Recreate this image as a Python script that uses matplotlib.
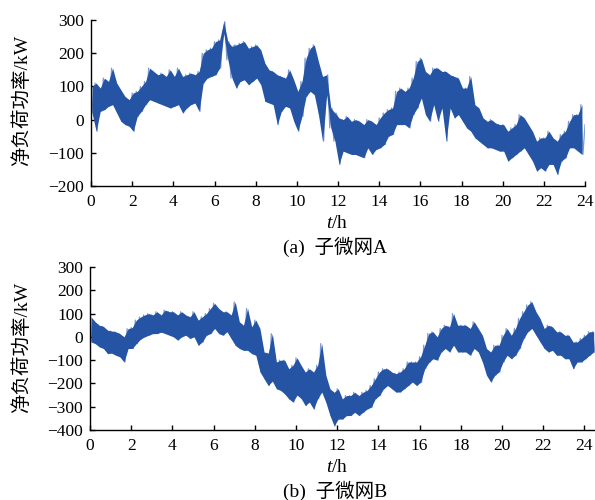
import numpy as np
import matplotlib
matplotlib.use('Agg')
import matplotlib.pyplot as plt

plt.rcParams['font.family'] = ['Liberation Serif', 'Noto Sans CJK SC']
plt.rcParams['mathtext.fontset'] = 'custom'
plt.rcParams['mathtext.rm'] = 'Liberation Serif'
plt.rcParams['mathtext.it'] = 'Liberation Serif:italic'

# 子微网A 净负荷 (kW), 每0.1 h 一个点, 0~24 h
load_a = [
    100, 20, 110, -35, 95, 25, 125, 30, 115, 40,
    155, 45, 110, 20, 90, -5, 70, -15, 60, -20,
    80, -35, 85, 10, 100, 25, 115, 45, 155, 60,
    145, 55, 135, 50, 140, 45, 130, 40, 150, 35,
    130, 40, 155, 45, 130, 20, 135, 35, 140, 45,
    135, 50, 145, 25, 200, 110, 210, 125, 215, 130,
    235, 135, 240, 155, 260, 295, 180, 235, 125, 220,
    225, 95, 230, 115, 235, 120, 215, 105, 220, 115,
    225, 125, 210, 105, 170, 55, 150, 50, 145, 45,
    135, -15, 130, 25, 125, 40, 150, 35, 120, -5,
    85, -35, 115, 10, 185, 70, 215, 85, 225, 75,
    175, 15, 130, -65, 75, 135, -25, 35, -65, 20,
    5, -135, 0, -95, 10, -100, -5, -105, 0, -105,
    -5, -110, -15, -115, 0, -85, -5, -105, -15, -90,
    5, -85, 20, -75, 30, -50, 35, -45, 85, -15,
    95, -15, 85, -15, 95, -25, 125, 15, 175, 35,
    185, 65, 145, 15, 135, -5, 155, 45, 155, -5,
    145, 35, 145, -65, 135, 35, 130, 5, 125, 15,
    95, -5, 95, -25, 130, -35, 45, -55, 35, -65,
    5, -75, -5, -85, 0, -85, -10, -90, -15, -95,
    -15, -95, -35, -125, -25, -115, -15, -105, 15, -95,
    5, -85, -15, -105, -35, -125, -65, -155, -55, -145,
    -55, -155, -35, -135, -55, -135, -65, -165, -45, -125,
    -35, -115, -5, -85, 15, -85, 15, -95, 45, -105,
    -15,
]

# 子微网B 净负荷 (kW), 每0.1 h 一个点, 0~24.5 h
load_b = [
    86, -22, 65, -29, 50, -43, 45, -50, 29, -72,
    25, -70, 22, -79, 14, -86, 0, -108, 35, -50,
    40, -50, 72, -29, 85, -10, 94, 0, 100, 7,
    94, 14, 108, 14, 94, 20, 115, 14, 108, 7,
    108, 0, 94, -14, 108, 0, 94, 7, 86, -7,
    108, 0, 72, -36, 86, -22, 100, 7, 122, 14,
    144, 36, 122, 14, 108, 7, 108, 22, 94, -7,
    150, -36, 65, -50, 50, -58, 122, -58, 43, -72,
    72, -79, 36, -150, -65, -180, -70, -209, 14, -190,
    -108, -223, -100, -230, -100, -245, -137, -266, -122, -280,
    -90, -250, -122, -265, -151, -295, -137, -280, -151, -310,
    -122, -266, -29, -237, -165, -281, -223, -338, -238, -382,
    -223, -353, -266, -353, -252, -338, -252, -338, -238, -324,
    -252, -338, -238, -324, -230, -310, -209, -302, -180, -266,
    -151, -252, -137, -223, -137, -209, -151, -223, -158, -237,
    -151, -237, -137, -223, -108, -209, -108, -194, -108, -209,
    -85, -195, -36, -137, 15, -110, 22, -94, 0, -100,
    36, -65, 50, -50, 43, -65, 100, -36, 50, -65,
    50, -65, 50, -65, 36, -79, 65, -50, 36, -65,
    7, -108, -50, -165, -65, -194, -36, -165, -36, -151,
    7, -108, 36, -79, 7, -94, 36, -79, 79, -50,
    108, -7, 137, 22, 151, 36, 108, 7, 79, -22,
    36, -50, 50, -65, 43, -58, 22, -79, 22, -79,
    7, -94, 7, -94, -22, -137, -22, -108, -7, -108,
    7, -94, 22, -79, 22, -65,
]

x_ticks = list(range(0, 25, 2))
yticks_a = [-200, -100, 0, 100, 200, 300]
yticks_b = [-400, -300, -200, -100, 0, 100, 200, 300]

color = '#2554a4'
light = '#7d9ad2'
W, H = 595, 500


def draw(ax, load):
    y = np.asarray(load, dtype=float)
    t = np.arange(len(y)) * 0.1
    # 高频波动形成的带状区域: 取相邻两点的上下包络填充
    n = len(y) // 2 * 2
    pairs = y[:n].reshape(-1, 2)
    tc = t[:n].reshape(-1, 2).mean(axis=1)
    ax.plot(t, y, color=light, lw=0.9, zorder=1)
    ax.fill_between(tc, pairs.min(axis=1), pairs.max(axis=1),
                    color=color, lw=0, zorder=2)


def style(ax, yticks, ylim, xlim):
    for s in ['top', 'right']:
        ax.spines[s].set_visible(False)
    for s in ['left', 'bottom']:
        ax.spines[s].set_linewidth(1.0)
    ax.set_xlim(*xlim)
    ax.set_ylim(*ylim)
    ax.set_xticks(x_ticks)
    ax.set_yticks(yticks)
    ax.tick_params(direction='in', length=3.5, width=1.0, labelsize=12.5)
    ax.tick_params(axis='x', pad=6)
    ax.tick_params(axis='y', pad=5)


fig = plt.figure(figsize=(W / 100, H / 100), dpi=100)
ax1 = fig.add_axes([91 / W, 1 - 186 / H, 494 / W, 166 / H])
ax2 = fig.add_axes([90 / W, 1 - 430 / H, 515 / W, 163 / H])

draw(ax1, load_a)
style(ax1, yticks_a, (-200, 300), (0, 24))
draw(ax2, load_b)
style(ax2, yticks_b, (-400, 300), (0, 25))

for yc, yl, cap in [(224, 100, '(a)  子微网A'), (468, 347, '(b)  子微网B')]:
    fig.text(337 / W, 1 - yc / H, '$t$/h', ha='center', va='center', fontsize=14)
    fig.text(22 / W, 1 - yl / H, '净负荷功率/kW', rotation=90,
             ha='center', va='center', fontsize=14)
    fig.text(335 / W, 1 - (yc + 23) / H, cap, ha='center', va='center', fontsize=14)

fig.savefig('out.png', dpi=100)
